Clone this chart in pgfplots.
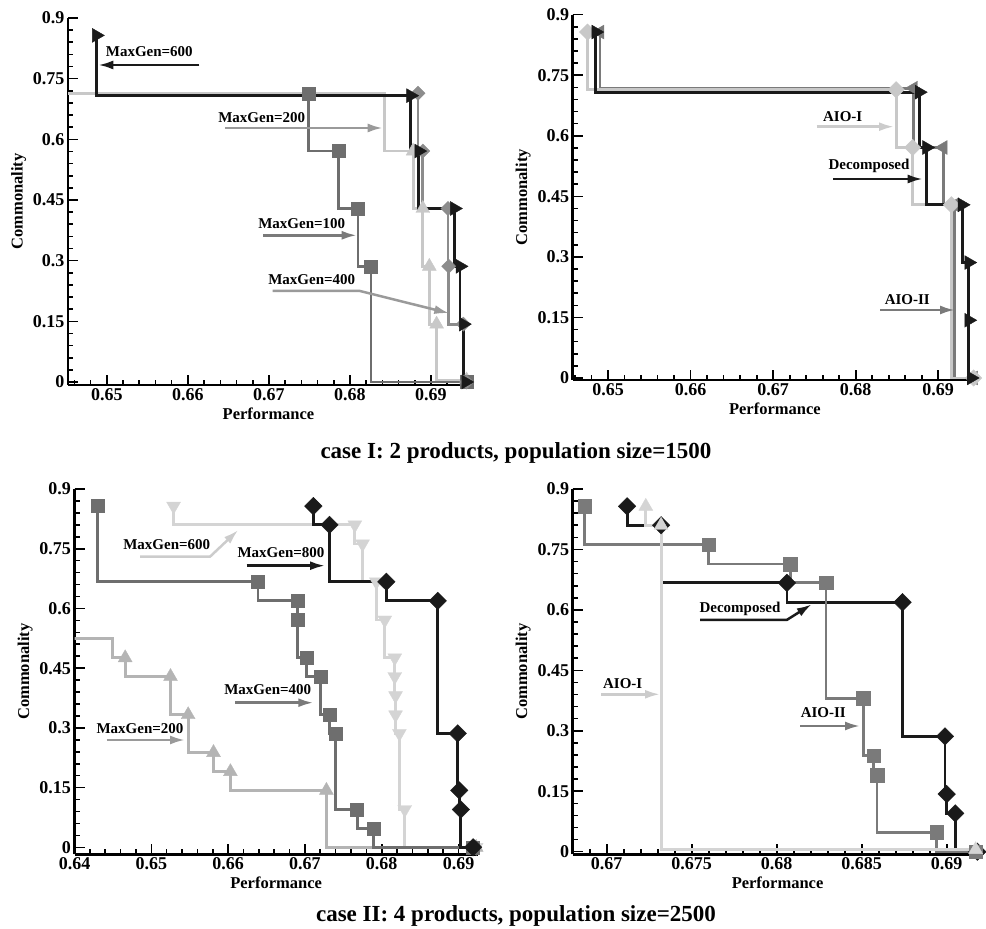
\documentclass[border=0pt]{standalone}
\usepackage{fontspec}
\setmainfont{Liberation Serif}
\usepackage{pgfplots}
\pgfplotsset{compat=1.18}
\usetikzlibrary{arrows.meta}

\definecolor{cK}{HTML}{1A1A1A}
\definecolor{cD}{HTML}{6E6E6E}
\definecolor{cM}{HTML}{8C8C8C}
\definecolor{cL}{HTML}{C8C8C8}
\definecolor{cA}{HTML}{7A7A7A}
\definecolor{cB}{HTML}{B4B4B4}
\definecolor{cV}{HTML}{D4D4D4}
\definecolor{aM}{HTML}{9A9A9A}
\definecolor{aD}{HTML}{7A7A7A}
\definecolor{aL}{HTML}{CCCCCC}

\pgfplotsset{
  panel/.style={
    scale only axis, anchor=south west,
    axis x line*=bottom, axis y line*=left,
    axis line style={line width=2.8pt, black},
    tick align=inside,
    major tick length=10pt, minor tick length=5pt,
    every tick/.style={line width=1.6pt, black},
    ymax=0.9,
    ytick={0,0.15,0.3,0.45,0.6,0.75,0.9},
    yticklabels={0,0.15,0.3,0.45,0.6,0.75,0.9},
    minor ytick={0,0.03,...,0.9},
    scaled ticks=false,
    /pgf/number format/assume math mode=true,
    tick label style={font=\fontsize{18}{20}\selectfont\bfseries},
    label style={font=\fontsize{16.5}{18}\selectfont\bfseries},
    xlabel={Performance}, ylabel={Commonality},
  },
  ser/.style n args={3}{const plot mark right, color=#1, mark=#2, mark size=#3,
    line width=2.8pt, every mark/.append style={line width=0.4pt, solid}},
  rr/.style={every mark/.append style={rotate=-90}},
  rl/.style={every mark/.append style={rotate=90}},
  rd/.style={every mark/.append style={rotate=180}},
  dm/.style={every mark/.append style={rotate=45}},
}
\tikzset{ar/.style={line width=2.5pt, -{Latex[length=15pt,width=9pt]}}}

\begin{document}
\begin{tikzpicture}
\path[use as bounding box] (0,0) rectangle (986pt,929pt);

% case I, MaxGen
\begin{axis}[panel, at={(68pt,544pt)}, width=401pt, height=367pt,
  xmin=0.6452, xmax=0.6947, ymin=-0.0074,
  xtick={0.65,0.66,0.67,0.68,0.69}, xticklabels={0.65,0.66,0.67,0.68,0.69},
  minor xtick={0.646,0.648,...,0.6945}]
\addplot[ser={cL}{triangle*}{8pt}, mark phase=2, mark repeat=1] coordinates {
  (0.640,0.714)(0.6843,0.714)(0.6878,0.571)(0.6890,0.429)(0.6898,0.286)(0.6907,0.143)(0.6944,0.005)};
\addplot[ser={cD}{square*}{6.5pt}] coordinates {
  (0.6749,0.714)(0.6786,0.571)(0.6810,0.429)(0.6826,0.286)(0.6944,0.0)};
\addplot[ser={cM}{square*}{5pt}, dm] coordinates {
  (0.6884,0.714)(0.6890,0.571)(0.6921,0.429)(0.6922,0.286)(0.6940,0.143)(0.6944,0.0)};
\addplot[ser={cK}{triangle*}{8pt}, rr] coordinates {
  (0.6487,0.857)(0.6875,0.708)(0.6885,0.571)(0.6929,0.429)(0.6936,0.286)(0.6940,0.143)(0.6943,0.0)};
\end{axis}

% case I, methods
\begin{axis}[panel, at={(572.7pt,549pt)}, width=404.3pt, height=365.3pt,
  xmin=0.6457, xmax=0.6947, ymin=-0.005,
  xtick={0.65,0.66,0.67,0.68,0.69}, xticklabels={0.65,0.66,0.67,0.68,0.69},
  minor xtick={0.646,0.648,...,0.6945}]
\addplot[ser={cA}{triangle*}{8pt}, rl] coordinates {
  (0.6490,0.857)(0.6870,0.718)(0.6906,0.571)(0.6920,0.429)(0.6943,0.0)};
\addplot[ser={cL}{square*}{5.8pt}, dm] coordinates {
  (0.6475,0.857)(0.6849,0.714)(0.6869,0.571)(0.6916,0.429)(0.6943,0.0)};
\addplot[ser={cK}{triangle*}{8pt}, rr] coordinates {
  (0.6485,0.857)(0.6877,0.708)(0.6886,0.571)(0.6929,0.429)(0.6937,0.286)(0.6937,0.143)(0.6940,0.0)};
\end{axis}

% case II, MaxGen
\begin{axis}[panel, at={(74.5pt,74.7pt)}, width=403.2pt, height=365.3pt,
  xmin=0.64, xmax=0.6925, ymin=-0.0175,
  xtick={0.64,0.65,0.66,0.67,0.68,0.69}, xticklabels={0.64,0.65,0.66,0.67,0.68,0.69},
  minor xtick={0.640,0.642,...,0.6925}]
\addplot[ser={cB}{triangle*}{8pt}, mark phase=2, mark repeat=1] coordinates {
  (0.638,0.524)(0.6449,0.524)(0.6466,0.476)(0.6525,0.429)(0.6548,0.333)(0.6581,0.238)(0.6603,0.190)(0.6728,0.143)(0.6923,0.0)};
\addplot[ser={cV}{triangle*}{8pt}, rd] coordinates {
  (0.6529,0.857)(0.6765,0.810)(0.6775,0.762)(0.6793,0.667)(0.6804,0.571)(0.6817,0.476)(0.6817,0.429)(0.6818,0.381)(0.6818,0.333)(0.6823,0.286)(0.6830,0.095)(0.6923,0.0)};
\addplot[ser={cD}{square*}{6.5pt}] coordinates {
  (0.6430,0.857)(0.6639,0.667)(0.6690,0.619)(0.6690,0.571)(0.6702,0.476)(0.6720,0.429)(0.6732,0.333)(0.6740,0.286)(0.6768,0.095)(0.6789,0.048)(0.6919,0.0)};
\addplot[ser={cK}{square*}{6.2pt}, dm] coordinates {
  (0.6711,0.857)(0.6732,0.810)(0.6806,0.667)(0.6873,0.619)(0.6899,0.286)(0.6901,0.143)(0.6903,0.095)(0.6919,0.0)};
\end{axis}

% case II, methods
\begin{axis}[panel, at={(572.7pt,74.7pt)}, width=409.7pt, height=365.3pt,
  xmin=0.668, xmax=0.6921, ymin=-0.0065,
  xtick={0.67,0.675,0.68,0.685,0.69}, xticklabels={0.67,0.675,0.68,0.685,0.69},
  minor xtick={0.668,0.669,...,0.6921}]
\addplot[ser={cK}{square*}{6.2pt}, dm] coordinates {
  (0.6712,0.857)(0.6732,0.810)(0.6806,0.667)(0.6874,0.619)(0.6899,0.286)(0.6900,0.143)(0.6905,0.095)(0.6918,0.0)};
\addplot[ser={cA}{square*}{6.8pt}] coordinates {
  (0.6687,0.857)(0.6760,0.762)(0.6808,0.714)(0.6829,0.667)(0.6851,0.381)(0.6857,0.238)(0.6859,0.190)(0.6894,0.048)(0.6917,0.0)};
\addplot[ser={cV}{triangle*}{8pt}] coordinates {
  (0.6723,0.857)(0.6732,0.810)(0.6917,0.005)};
\end{axis}

\node[font=\fontsize{23}{26}\selectfont\bfseries] at (516pt,476pt) {case I: 2 products, population size=1500};
\node[font=\fontsize{23}{26}\selectfont\bfseries] at (516pt,13pt) {case II: 4 products, population size=2500};

% annotations, in picture pixels (y downward)
\begin{scope}[shift={(0,929pt)}, x=1pt, y=-1pt,
  every node/.style={font=\fontsize{15}{17}\selectfont\bfseries}]
\node at (149.3,51.7) {MaxGen=600};
\draw[ar, cK] (199.3,65) -- (98.3,65);
\node at (261.7,117.3) {MaxGen=200};
\draw[ar, aM] (225,128) -- (382.7,128);
\node at (301.7,224) {MaxGen=100};
\draw[ar, aD] (263.3,235.3) -- (356.7,235.3);
\node at (311.7,280) {MaxGen=400};
\draw[ar, aM] (272.7,291) -- (360,291) -- (449.3,313.3);

\node at (842.7,116.7) {AIO-I};
\draw[ar, aL] (816.7,126.7) -- (894,126.7);
\node at (869,165.7) {Decomposed};
\draw[ar, cK] (833.3,179) -- (922.7,179);
\node at (907.3,299.3) {AIO-II};
\draw[ar, aD] (880,310) -- (955,310);

\node at (166.7,545) {MaxGen=600};
\draw[ar, aL] (140,556.7) -- (210,556.7) -- (238.3,530);
\node at (281,552.3) {MaxGen=800};
\draw[ar, cK] (246.7,565.7) -- (325,565.7);
\node at (267.7,689.3) {MaxGen=400};
\draw[ar, aD] (235,702.7) -- (313.3,702.7);
\node at (140,728.3) {MaxGen=200};
\draw[ar, aM] (106.7,740) -- (185,740);

\node at (740,609.3) {Decomposed};
\draw[ar, cK] (700,620) -- (786.7,620) -- (811.7,604.3);
\node at (622.7,683.3) {AIO-I};
\draw[ar, aL] (601,694.3) -- (660,694.3);
\node at (823.3,712.3) {AIO-II};
\draw[ar, aD] (800,726) -- (860,726);
\end{scope}
\end{tikzpicture}
\end{document}
